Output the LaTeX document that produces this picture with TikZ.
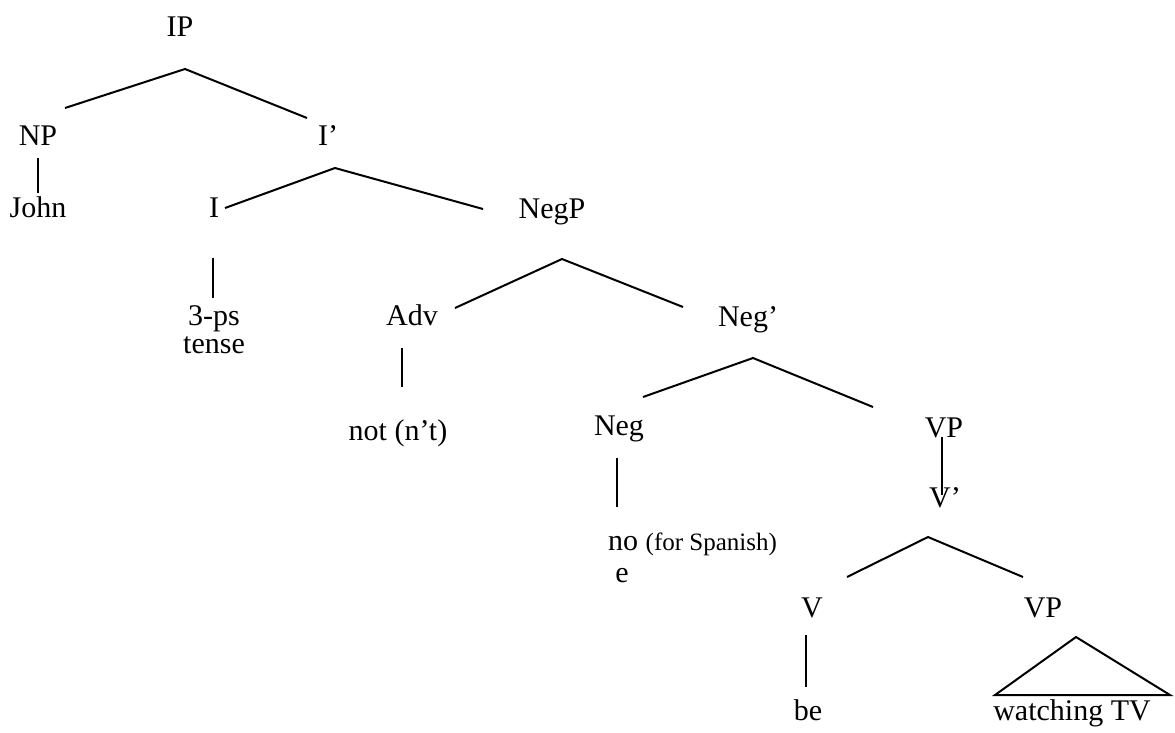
\documentclass[tikz,border=0pt]{standalone}
\usepackage{fontspec}
\setmainfont{Liberation Serif}
\begin{document}
\begin{tikzpicture}[x=1pt,y=-1pt,
  lab/.style={font=\fontsize{30}{28}\selectfont, inner sep=0pt, anchor=base},
  edge/.style={line width=2pt, line join=miter}]
\useasboundingbox (0,0) rectangle (1175,732);
% labels
\node[lab] (IP) at (180,36) {IP};
\node[lab] (NP) at (38,145) {NP};
\node[lab] (Ibar) at (328,145) {I'};
\node[lab] (John) at (38,217) {John};
\node[lab] (I) at (214,217) {I};
\node[lab] (NegP) at (552,218) {NegP};
\node[lab, align=center] (tense) at (214,353) {3-ps\\tense};
\node[lab] (Adv) at (412,325) {Adv};
\node[lab] (Negbar) at (748,326) {Neg'};
\node[lab] (not) at (398,440) {not (n't)};
\node[lab] (Neg) at (619,435) {Neg};
\node[lab] (VP) at (944,437) {VP};
\node[lab] (Vbar) at (945,507) {V'};
\node[lab, anchor=base west] (no) at (608,550) {no {\fontsize{25}{28}\selectfont (for Spanish)}};
\node[lab] (e) at (622,582) {e};
\node[lab] (V) at (812,617) {V};
\node[lab] (VP2) at (1043,617) {VP};
\node[lab] (be) at (808,720) {be};
\node[lab] (wTV) at (1072,720) {watching TV};
% branch points
\coordinate (ipL) at (65,108); \coordinate (ipT) at (185,69); \coordinate (ipR) at (307,118);
\coordinate (npT) at (38,158); \coordinate (npB) at (38,193);
\coordinate (ibL) at (225,208); \coordinate (ibT) at (335,168); \coordinate (ibR) at (483,209);
\coordinate (iT) at (213,258); \coordinate (iB) at (213,298);
\coordinate (ngL) at (455,308); \coordinate (ngT) at (562,259); \coordinate (ngR) at (683,307);
\coordinate (advT) at (402,348); \coordinate (advB) at (402,387);
\coordinate (nbL) at (643,397); \coordinate (nbT) at (753,358); \coordinate (nbR) at (873,407);
\coordinate (negT) at (617,458); \coordinate (negB) at (617,507);
\coordinate (vpT) at (942,437); \coordinate (vpB) at (942,495);
\coordinate (vbL) at (847,577); \coordinate (vbT) at (928,537); \coordinate (vbR) at (1023,577);
\coordinate (vT) at (806,635); \coordinate (vB) at (806,687);
\coordinate (triT) at (1076,637); \coordinate (triL) at (995,695); \coordinate (triR) at (1170,695);
% edges
\draw[edge] (ipL) -- (ipT) -- (ipR);
\draw[edge, line width=1.2pt] (npT) -- (npB);
\draw[edge] (ibL) -- (ibT) -- (ibR);
\draw[edge] (iT) -- (iB);
\draw[edge] (ngL) -- (ngT) -- (ngR);
\draw[edge] (advT) -- (advB);
\draw[edge] (nbL) -- (nbT) -- (nbR);
\draw[edge] (negT) -- (negB);
\draw[edge] (vpT) -- (vpB);
\draw[edge] (vbL) -- (vbT) -- (vbR);
\draw[edge] (vT) -- (vB);
\draw[edge] (triT) -- (triL) -- (triR) -- cycle;
\end{tikzpicture}
\end{document}
